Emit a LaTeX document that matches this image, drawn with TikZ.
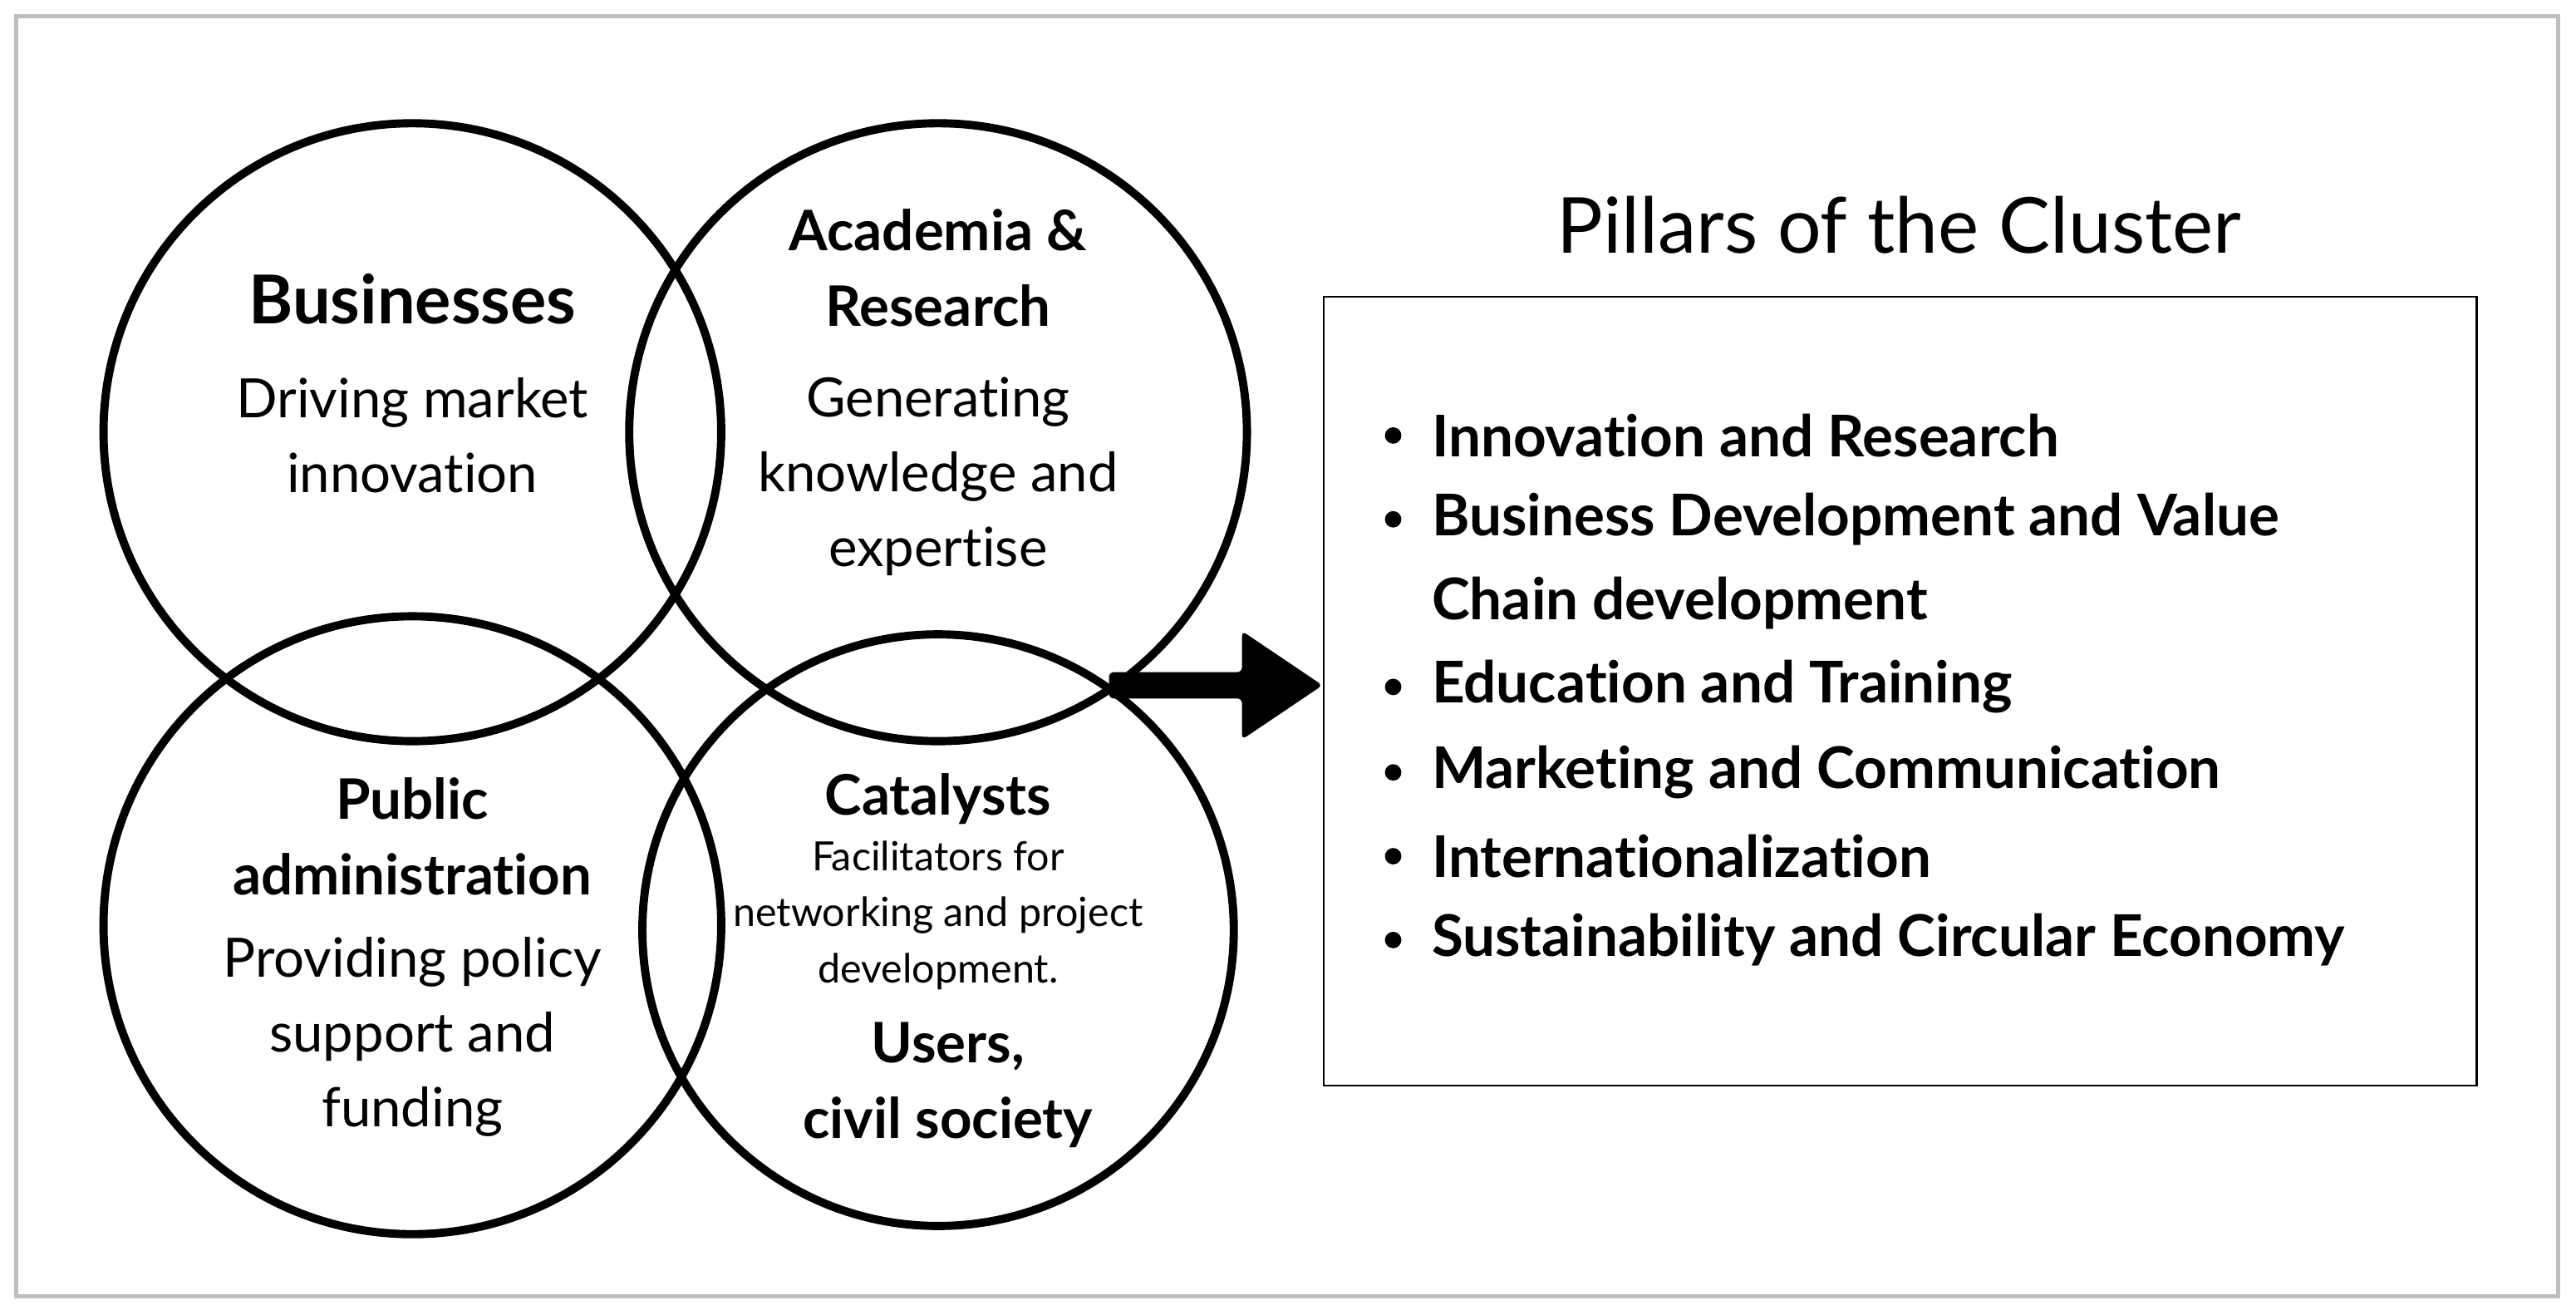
\documentclass[tikz,border=0pt]{standalone}
\usepackage{fontspec}
\setmainfont[Ligatures=NoCommon]{Lato}
\begin{document}
\begin{tikzpicture}[x=1pt,y=-1pt,
  circ/.style={draw=black,line width=5pt},
  big/.style={font=\fontsize{41}{46}\selectfont\bfseries},
  head/.style={font=\fontsize{34}{46}\selectfont\bfseries,align=center},
  body/.style={font=\fontsize{33}{45.5}\selectfont,align=center},
  small/.style={font=\fontsize{24.5}{34}\selectfont,align=center},
  item/.style={font=\fontsize{35}{51}\selectfont\bfseries,anchor=west}]
\useasboundingbox (0,0) rectangle (1568,800);
\fill[white] (0,0) rectangle (1568,800);
\draw[gray!50,line width=2.5pt] (10,10) rectangle (1557,789);
\draw[circ] (251,263) circle (188);
\draw[circ] (571,263) circle (188);
\draw[circ] (251,563) circle (188);
\draw[circ] (571,566) circle (180);
\node[big] (bus) at (251,182) {Businesses};
\node[body] (busd) at (251,265) {Driving market\\innovation};
\node[head] (aca) at (571,163) {Academia \&\\Research};
\node[body] (acad) at (571,290) {Generating\\knowledge and\\expertise};
\node[head] (pub) at (251,509) {Public\\administration};
\node[body] (pubd) at (251,631) {Providing policy\\support and\\funding};
\node[head] (cat) at (571,486) {Catalysts};
\node[small] (catd) at (571,557) {Facilitators for\\networking and project\\development.};
\node[head] (usr) at (577,660) {Users,\\civil society};
\coordinate (as) at (675,417);
\coordinate (ae) at (805,417);
\fill[rounded corners=3pt] (as) ++(0,-8) -- (756,409) -- (756,384) -- (ae) -- (756,450) -- (756,425) -- (675,425) -- cycle;
\node[font=\fontsize{47}{50}\selectfont] (title) at (1156,137) {Pillars of the Cluster};
\node[draw=black,line width=1.2pt,minimum width=702pt,minimum height=480pt,anchor=north west] (box) at (805,180) {};
\foreach \t/\y in {Innovation and Research/265,Business Development and Value/316,Chain development/367,Education and Training/418,Marketing and Communication/470,Internationalization/521,Sustainability and Circular Economy/572}{
  \node[item] at (868,\y) {\t};}
\foreach \y in {265,316,418,470,521,572}{\fill (848,\y) circle (5);}
\end{tikzpicture}
\end{document}
